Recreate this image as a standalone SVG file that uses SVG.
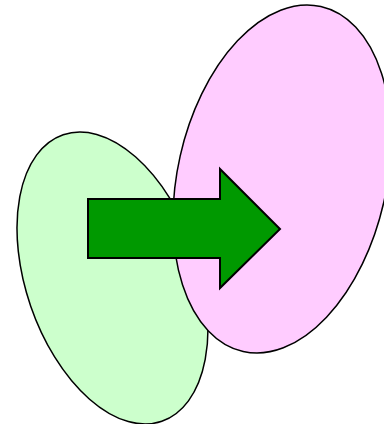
<svg xmlns="http://www.w3.org/2000/svg" width="384" height="424" viewBox="0 0 384 424">
<style>
.sh{stroke:#000;stroke-width:1.5}
.ar{stroke:#000;stroke-width:2;fill:#009900}
</style>
<rect width="384" height="424" fill="#fff"/>
<g id="green">
<ellipse class="sh" cx="112.5" cy="278" rx="86.5" ry="151.5" fill="#ccffcc" transform="rotate(-19 112.5 278)"/>
</g>
<g id="pink">
<ellipse class="sh" cx="282" cy="179" rx="104.4" ry="176.8" fill="#ffccff" transform="rotate(12.7 282 179)"/>
</g>
<g id="arrow">
<polygon class="ar" points="88,199 220,199 220,169 280,229 220,288 220,258 88,258"/>
</g>
</svg>
